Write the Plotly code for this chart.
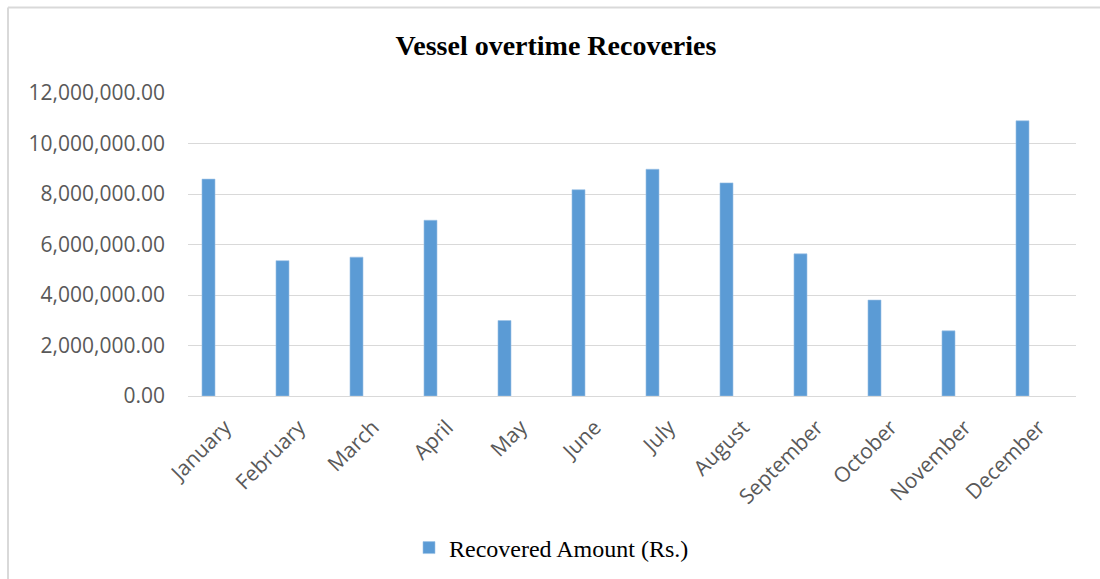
import plotly.graph_objects as go

months = ["January", "February", "March", "April", "May", "June", "July",
          "August", "September", "October", "November", "December"]
recovered = [8590000, 5360000, 5500000, 6960000, 2990000, 8170000, 8980000,
             8440000, 5630000, 3800000, 2580000, 10900000]
y_ticks = [0, 2000000, 4000000, 6000000, 8000000, 10000000, 12000000]

W, H = 1100, 579
L, R, T, B = 188, 24, 93, 183
pw, ph = W - L - R, H - T - B

def px_x(x):
    return (x - L) / pw

def px_y(y):
    return (H - B - y) / ph

fig = go.Figure()
fig.add_trace(go.Bar(
    x=months, y=recovered, name="Recovered Amount (Rs.)",
    width=0.176, offset=-0.311,
    marker=dict(color="#5B9BD5", line=dict(color="#9DC3E6", width=0.6)),
    showlegend=True,
))

fig.update_layout(
    width=W, height=H,
    margin=dict(l=L, r=R, t=T, b=B, autoexpand=False),
    paper_bgcolor="white", plot_bgcolor="white",
    title=dict(text="<b>Vessel overtime Recoveries</b>", x=556 / W, xanchor="center",
               xref="container", y=1 - 45 / H, yref="container",
               yanchor="middle",
               font=dict(family="Liberation Serif", size=28, color="black")),
    showlegend=True,
    legend=dict(orientation="h", x=px_x(409), xanchor="left", y=px_y(548), yanchor="middle",
                font=dict(family="Liberation Serif", size=24, color="black"),
                bgcolor="rgba(0,0,0,0)"),
    xaxis=dict(tickangle=-45, tickfont=dict(family="Open Sans", size=21, color="#595959"),
               showgrid=False, showline=False, ticks="", ticklabelstandoff=14),
    yaxis=dict(range=[0, 12000000], tickvals=y_ticks, tickformat=",.2f",
               tickfont=dict(family="Open Sans", size=21, color="#595959"),
               showgrid=True, gridcolor="#D9D9D9", gridwidth=1.3,
               zeroline=True, zerolinecolor="#D9D9D9", zerolinewidth=1.3,
               showline=False, ticks="", ticklabelstandoff=22),
    shapes=[
        dict(type="line", xref="paper", yref="paper", x0=px_x(8), x1=px_x(1100),
             y0=px_y(7.5), y1=px_y(7.5), line=dict(color="#D9D9D9", width=2)),
        dict(type="line", xref="paper", yref="paper", x0=px_x(8), x1=px_x(8),
             y0=px_y(7.5), y1=px_y(579), line=dict(color="#D9D9D9", width=2)),
    ],
)

fig.write_html("out.html")
